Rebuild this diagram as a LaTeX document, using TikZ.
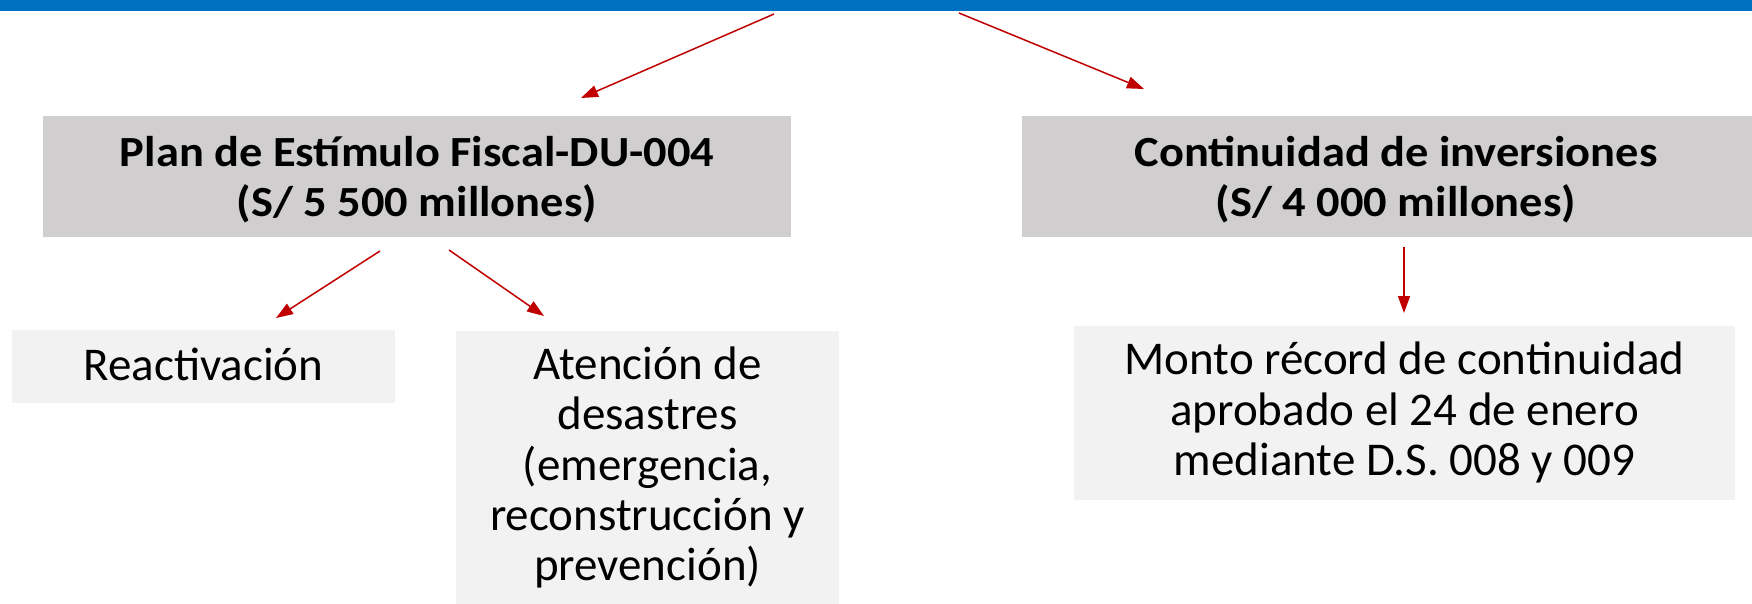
\documentclass[tikz,border=0pt]{standalone}
\usepackage{fontspec}
\setmainfont{Carlito}
\newfontfamily\headfont{Carlito}[FakeStretch=1.08]
\usetikzlibrary{arrows.meta}
\definecolor{barblue}{HTML}{0070C0}
\definecolor{darkbox}{HTML}{D0CECE}
\definecolor{lightbox}{HTML}{F2F2F2}
\definecolor{arrowred}{HTML}{C00000}
\newcommand\topstrutx{\rule{0pt}{40pt}}
\newcommand\botstrutx{\rule[-15pt]{0pt}{15pt}}
\begin{document}
\begin{tikzpicture}[x=1pt,y=1pt,
  headbox/.style={fill=darkbox, draw=none, inner sep=0pt, minimum height=121pt},
  headtext/.style={inner sep=0pt, align=center,
    font=\headfont\fontsize{43}{50}\selectfont\bfseries},
  subbox/.style={fill=lightbox, draw=none, inner sep=0pt},
  subtext/.style={inner sep=0pt, align=center, font=\fontsize{47}{50.3}\selectfont},
  conn/.style={draw=arrowred, line width=1.5pt, -{Triangle[length=17pt,width=12pt]}}
]
\useasboundingbox (0,0) rectangle (1752,-603);
\clip (0,0) rectangle (1752,-603);
\fill[barblue] (0,0) rectangle (1752,-11);

% header boxes
\node[headbox, minimum width=748.5pt] (plan) at (417,-176.8) {};
\node[headtext] (plantext) at (417,-178.5)
  {\topstrutx Plan de Estímulo Fiscal-DU-004\\(S/ 5 500 millones)\botstrutx};
\node[headbox, minimum width=748pt] (cont) at (1396,-176.8) {};
\node[headtext] (conttext) at (1396,-178.5)
  {\topstrutx Continuidad de inversiones\\(S/ 4 000 millones)\botstrutx};

% sub boxes
\node[subbox, minimum width=383pt, minimum height=73pt] (react) at (203.5,-366.5) {};
\node[subtext] (reacttext) at (203.5,-367.5) {\topstrutx Reactivación\botstrutx};

\node[subbox, minimum width=383pt, minimum height=290pt, anchor=north] (atbox) at (647.5,-331) {};
\node[subtext] (attext) at (647.5,-467.5)
  {\topstrutx Atención de\\desastres\\(emergencia,\\reconstrucción y\\prevención)\botstrutx};

\node[subbox, minimum width=661pt, minimum height=174pt] (monto) at (1404.5,-413) {};
\node[subtext] (montotext) at (1404.5,-412.5)
  {\topstrutx Monto récord de continuidad\\aprobado el 24 de enero\\mediante D.S. 008 y 009\botstrutx};

% connectors
\coordinate (s1) at (774,-14);  \coordinate (e1) at (581,-98);
\coordinate (s2) at (959,-13);  \coordinate (e2) at (1144,-89);
\coordinate (s3) at (380,-251); \coordinate (e3) at (276,-318);
\coordinate (s4) at (449,-250); \coordinate (e4) at (544,-316);
\coordinate (s5) at (1404,-247); \coordinate (e5) at (1404,-313);

\draw[conn] (s1) -- (e1);
\draw[conn] (s2) -- (e2);
\draw[conn] (s3) -- (e3);
\draw[conn] (s4) -- (e4);
\draw[conn] (s5) -- (e5);
\end{tikzpicture}
\end{document}
